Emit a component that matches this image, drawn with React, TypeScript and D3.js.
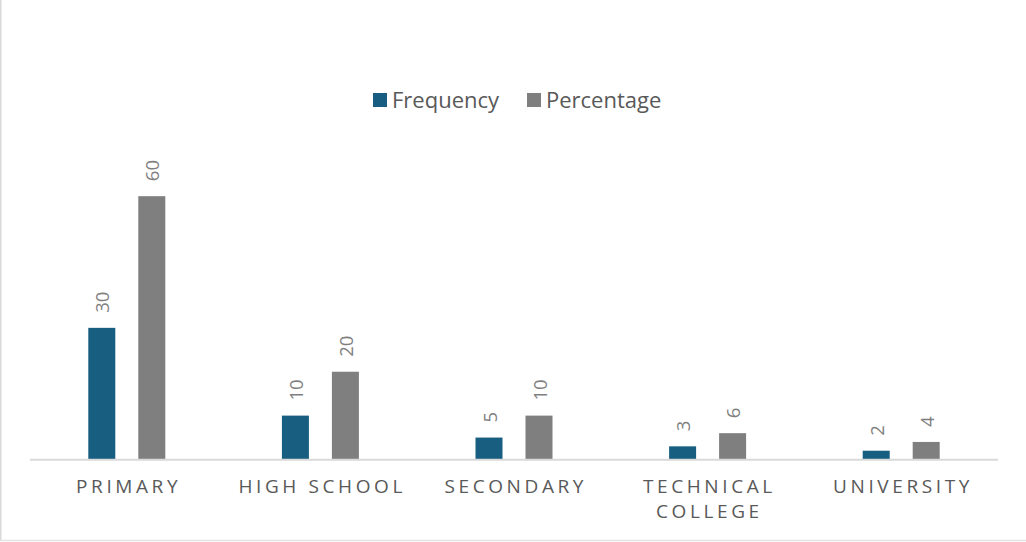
import React from "react";
import * as d3 from "d3";

// Education level of respondents
const categories: string[][] = [
  ["PRIMARY"],
  ["HIGH SCHOOL"],
  ["SECONDARY"],
  ["TECHNICAL", "COLLEGE"],
  ["UNIVERSITY"],
];
const frequency: number[] = [30, 10, 5, 3, 2];
const percentage: number[] = [60, 20, 10, 6, 4];
const seriesNames: string[] = ["Frequency", "Percentage"];
const seriesColors: string[] = ["#175e80", "#7f7f7f"];

const W = 1026;
const H = 542;
const FONT = "'Open Sans', 'Liberation Sans', sans-serif";

export default function App() {
  const x = d3
    .scaleBand<number>()
    .domain(categories.map((_, i) => i))
    .range([30, 998])
    .padding(0);
  const y = d3.scaleLinear().domain([0, 70]).range([459.5, 152.3]);
  const barW = 27;
  const offset = 25;

  const series = [frequency, percentage];

  return (
    <svg
      width={W}
      height={H}
      style={{ position: "fixed", left: 0, top: 0, background: "#fff" }}
      fontFamily={FONT}
    >
      <rect x={0} y={0} width={W} height={H} fill="#fff" />
      {/* chart frame: left and bottom edges */}
      <line x1={0.75} y1={0} x2={0.75} y2={541} stroke="#d9d9d9" strokeWidth={1.5} />
      <line x1={0} y1={540.5} x2={W} y2={540.5} stroke="#e3e3e3" strokeWidth={1.5} />

      {/* legend */}
      <g>
        <rect x={373} y={93} width={14} height={14} fill={seriesColors[0]} />
        <text x={392} y={107.5} fontSize={22} fill="#595959">
          {seriesNames[0]}
        </text>
        <rect x={527} y={93} width={14} height={14} fill={seriesColors[1]} />
        <text x={546} y={107.5} fontSize={22} fill="#595959">
          {seriesNames[1]}
        </text>
      </g>

      {/* bars and value labels */}
      {series.map((vals, s) =>
        vals.map((v, i) => {
          const cx = (x(i) as number) + x.bandwidth() / 2 + (s === 0 ? -offset : offset);
          const top = y(v);
          return (
            <g key={`${s}-${i}`}>
              <rect
                x={cx - barW / 2}
                y={top}
                width={barW}
                height={y(0) - top}
                fill={seriesColors[s]}
              />
              <text
                transform={`translate(${cx},${top - 15}) rotate(-90)`}
                fontSize={18.5}
                fill="#7f7f7f"
                dominantBaseline="central"
                textAnchor="start"
              >
                {v}
              </text>
            </g>
          );
        })
      )}

      {/* category axis */}
      <line x1={30} y1={459.75} x2={998} y2={459.75} stroke="#d9d9d9" strokeWidth={2} />
      {categories.map((lines, i) => {
        const cx = (x(i) as number) + x.bandwidth() / 2 + 1.8;
        return (
          <text
            key={i}
            x={cx}
            y={493}
            fontSize={19}
            letterSpacing={3.6}
            textAnchor="middle"
            fill="#595959"
          >
            {lines.map((l, k) => (
              <tspan key={k} x={cx} dy={k === 0 ? 0 : 25}>
                {l}
              </tspan>
            ))}
          </text>
        );
      })}
    </svg>
  );
}
